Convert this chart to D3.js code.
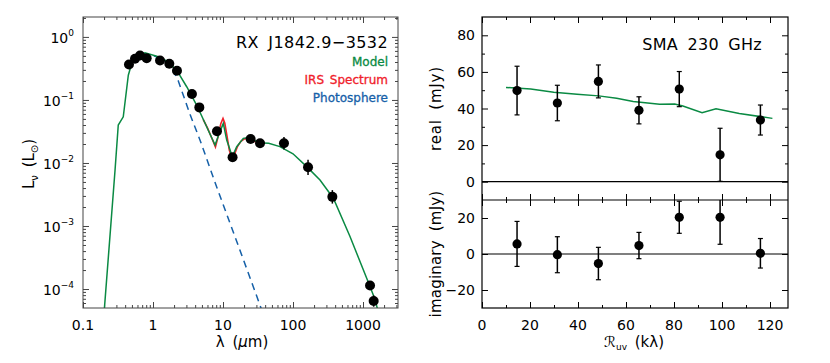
<!DOCTYPE html>
<html>
<head>
<meta charset="utf-8">
<script src="https://cdn.jsdelivr.net/npm/d3@7"></script>
<style>
  body { margin: 0; background: #fff; }
  text { font-family: "DejaVu Sans", sans-serif; }
</style>
</head>
<body>
<svg id="chart" width="830" height="363"></svg>
<script>
// SED panel data (wavelength in micron, luminosity in Lsun)
const sedWave = [0.454, 0.553, 0.652, 0.812, 1.26, 1.71, 2.20, 3.6, 4.59, 8.2, 13.7, 24.8, 33.8, 74.3, 164, 365, 1260, 1420];
const sedLum = [0.366, 0.449, 0.507, 0.46, 0.422, 0.374, 0.29, 0.124, 0.0762, 0.0318, 0.0123, 0.024, 0.0205, 0.0205, 0.00853, 0.0029, 1.14e-4, 6.45e-5];
const sedErrDex = [0, 0, 0, 0, 0, 0, 0, 0, 0, 0, 0, 0.03, 0.03, 0.1, 0.12, 0.107, 0.05, 0.09];

const modelWave = [0.19, 0.287, 0.319, 0.376, 0.444, 0.496, 0.652, 0.769, 1.13, 1.57, 2.18, 3.03, 4.2, 5.24, 7.7, 8.85, 10.1, 11.3, 13.6, 15.7, 19.5, 24.3, 31.9, 45, 65, 100, 157, 243, 377, 652, 1259, 1484, 1800];
const modelLum = [2e-5, 7.75e-3, 0.04, 0.054, 0.247, 0.379, 0.513, 0.559, 0.494, 0.417, 0.297, 0.162, 0.083, 0.049, 0.0193, 0.0295, 0.0425, 0.0231, 0.0126, 0.0181, 0.0246, 0.0255, 0.021, 0.0205, 0.0182, 0.014, 0.00875, 0.00538, 0.00276, 6.8e-4, 1.1e-4, 6.8e-5, 3e-5];

const irsWave = [5.2, 6.0, 7.0, 7.8, 8.5, 9.3, 10.0, 10.6, 11.4, 12.3, 13.3, 14.5, 16, 18, 20, 22, 25, 28, 32, 36];
const irsLum = [0.049, 0.036, 0.024, 0.018, 0.026, 0.042, 0.051, 0.043, 0.027, 0.016, 0.0118, 0.0135, 0.018, 0.022, 0.024, 0.0245, 0.0235, 0.022, 0.0215, 0.021];

const photWave = [0.7, 1.0, 1.3, 1.6, 1.9, 2.3, 2.6, 3.4, 4.7, 8.1, 14.8, 27, 40];
const photLum = [0.545, 0.51, 0.45, 0.39, 0.31, 0.2, 0.135, 0.058, 0.023, 0.0042, 6.8e-4, 1.1e-4, 3.3e-5];

const lamTicks = [0.1, 1, 10, 100, 1000];
const lamTickLabels = ["0.1", "1", "10", "100", "1000"];
const lumTicks = [1e-4, 1e-3, 1e-2, 1e-1, 1];
const lumTickExp = ["\u22124", "\u22123", "\u22122", "\u22121", "0"];

// SMA visibility data (uv distance in klambda, mJy)
const uvDist = [14.6, 31.4, 48.5, 65.4, 82.2, 99.2, 116];
const realAmp = [49.8, 43, 54.8, 39, 50.6, 14.7, 33.7];
const realErr = [13.3, 9.7, 9, 7.4, 9.6, 14.5, 8.2];
const imagAmp = [5.6, -0.4, -5.3, 4.7, 20.4, 20.4, 0.4];
const imagErr = [12.5, 10, 9, 7.3, 8.9, 15, 8.2];

const uvModelDist = [10, 20.3, 29.9, 39.6, 48.6, 56.1, 63, 74, 80.3, 83.7, 91.7, 97.5, 107.2, 121];
const uvModelReal = [51.5, 50.6, 48.9, 47.8, 46.9, 45.6, 43.8, 42.3, 42.5, 41.4, 37.7, 39.9, 37.3, 34.6];

const uvTicks = [0, 20, 40, 60, 80, 100, 120];
const realTicks = [0, 20, 40, 60, 80];
const imagTicks = [-20, 0, 20];

const GREEN = "#0a8a43", RED = "#f0202a", BLUE = "#1560a8";

const svg = d3.select("#chart");

// ---------- left panel: SED ----------
const L = {left: 83, right: 398, top: 17, bottom: 308};
const x = d3.scaleLog().domain([0.1, Math.pow(10, 3.5)]).range([L.left, L.right]);
const y = d3.scaleLog().domain([5e-5, 2.07]).range([L.bottom, L.top]);

function logMinor(lo, hi) {
    let out = [];
    for (let e = -6; e <= 4; e++) {
        for (let m = 2; m <= 9; m++) {
            let v = m * Math.pow(10, e);
            if (v > lo && v < hi) out.push(v);
        }
    }
    return out;
}

function drawTicks(g, axisFn, scale, values, size, transform, color) {
    g.append("g")
        .attr("transform", transform)
        .call(axisFn(scale).tickValues(values).tickSize(-size).tickFormat(""))
        .call(a => a.select(".domain").remove())
        .call(a => a.selectAll("line").attr("stroke", color));
}

const left = svg.append("g");
const leftColor = "#444";
for (let [fn, t] of [[d3.axisBottom, `translate(0,${L.bottom})`], [d3.axisTop, `translate(0,${L.top})`]]) {
    drawTicks(left, fn, x, lamTicks, 6, t, leftColor);
    drawTicks(left, fn, x, logMinor(0.1, 3162), 3, t, leftColor);
}
for (let [fn, t] of [[d3.axisLeft, `translate(${L.left},0)`], [d3.axisRight, `translate(${L.right},0)`]]) {
    drawTicks(left, fn, y, lumTicks, 6, t, leftColor);
    drawTicks(left, fn, y, logMinor(5e-5, 2.07), 3, t, leftColor);
}

left.append("clipPath").attr("id", "clipL")
    .append("rect").attr("x", L.left).attr("y", L.top)
    .attr("width", L.right - L.left).attr("height", L.bottom - L.top);

const sedLine = d3.line().x(d => x(d[0])).y(d => y(d[1]));
const plotL = left.append("g").attr("clip-path", "url(#clipL)");

plotL.append("path")
    .attr("d", sedLine(d3.zip(photWave, photLum)))
    .attr("fill", "none").attr("stroke", BLUE).attr("stroke-width", 1.5)
    .attr("stroke-dasharray", "7,5");
plotL.append("path")
    .attr("d", sedLine(d3.zip(irsWave, irsLum)))
    .attr("fill", "none").attr("stroke", RED).attr("stroke-width", 1.6);
plotL.append("path")
    .attr("d", sedLine(d3.zip(modelWave, modelLum)))
    .attr("fill", "none").attr("stroke", GREEN).attr("stroke-width", 1.5);

sedWave.forEach((w, i) => {
    if (sedErrDex[i] > 0) {
        plotL.append("line")
            .attr("x1", x(w)).attr("x2", x(w))
            .attr("y1", y(sedLum[i] * Math.pow(10, sedErrDex[i])))
            .attr("y2", y(sedLum[i] / Math.pow(10, sedErrDex[i])))
            .attr("stroke", "#000").attr("stroke-width", 1.5);
    }
    plotL.append("circle")
        .attr("cx", x(w)).attr("cy", y(sedLum[i])).attr("r", 5)
        .attr("fill", "#000");
});

left.append("rect")
    .attr("x", L.left).attr("y", L.top)
    .attr("width", L.right - L.left).attr("height", L.bottom - L.top)
    .attr("fill", "none").attr("stroke", leftColor).attr("stroke-width", 1);

lamTicks.forEach((v, i) => {
    left.append("text")
        .attr("x", x(v)).attr("y", 330)
        .attr("text-anchor", "middle").attr("font-size", 14)
        .text(lamTickLabels[i]);
});
lumTicks.forEach((v, i) => {
    let t = left.append("text")
        .attr("x", 74).attr("y", y(v) + 6)
        .attr("text-anchor", "end").attr("font-size", 14);
    t.append("tspan").text("10");
    t.append("tspan").attr("dy", -7).attr("font-size", 9).text(lumTickExp[i]);
});

let xl = left.append("text")
    .attr("x", 242).attr("y", 347)
    .attr("text-anchor", "middle").attr("font-size", 15).attr("word-spacing", 3);
xl.append("tspan").text("\u03bb (");
xl.append("tspan").attr("font-style", "italic").text("\u03bc");
xl.append("tspan").text("m)");

let yl = left.append("text")
    .attr("transform", "translate(34,164) rotate(-90)")
    .attr("text-anchor", "middle").attr("font-size", 15).attr("word-spacing", 3);
yl.append("tspan").text("L");
yl.append("tspan").attr("dy", 4).attr("font-size", 10).text("\u03bd");
yl.append("tspan").attr("dy", -4).text(" (L");
yl.append("tspan").attr("dy", 4).attr("font-size", 10).text("\u2299");
yl.append("tspan").attr("dy", -4).text(")");

left.append("text")
    .attr("x", 388).attr("y", 48)
    .attr("text-anchor", "end").attr("font-size", 16).attr("word-spacing", 4)
    .attr("letter-spacing", 0.4)
    .text("RX J1842.9\u22123532");
[["Model", GREEN, 66], ["IRS Spectrum", RED, 84], ["Photosphere", BLUE, 102]].forEach(d => {
    left.append("text")
        .attr("x", 388).attr("y", d[2])
        .attr("text-anchor", "end").attr("font-size", 12)
        .attr("fill", d[1]).attr("word-spacing", 2)
        .attr("stroke", d[1]).attr("stroke-width", 0.3)
        .text(d[0]);
});

// ---------- right panels: SMA visibilities ----------
const R = {left: 482, right: 788, top: 17, mid: 200, bottom: 308};
const u = d3.scaleLinear().domain([0, 127.5]).range([R.left, R.right]);
const yr = d3.scaleLinear().domain([-10, 90]).range([R.mid, R.top]);
const yi = d3.scaleLinear().domain([-30, 30]).range([R.bottom, R.mid]);
const uvMinor = d3.range(10, 127, 20);

const right = svg.append("g");
for (let [top, bot] of [[R.top, R.mid], [R.mid, R.bottom]]) {
    drawTicks(right, d3.axisBottom, u, uvTicks, 6, `translate(0,${bot})`, "#000");
    drawTicks(right, d3.axisBottom, u, uvMinor, 3, `translate(0,${bot})`, "#000");
    drawTicks(right, d3.axisTop, u, uvTicks, 6, `translate(0,${top})`, "#000");
    drawTicks(right, d3.axisTop, u, uvMinor, 3, `translate(0,${top})`, "#000");
}
drawTicks(right, d3.axisLeft, yr, realTicks, 6, `translate(${R.left},0)`, "#000");
drawTicks(right, d3.axisLeft, yr, [10, 30, 50, 70], 3, `translate(${R.left},0)`, "#000");
drawTicks(right, d3.axisRight, yr, realTicks, 6, `translate(${R.right},0)`, "#000");
drawTicks(right, d3.axisRight, yr, [10, 30, 50, 70], 3, `translate(${R.right},0)`, "#000");
drawTicks(right, d3.axisLeft, yi, imagTicks, 6, `translate(${R.left},0)`, "#000");
drawTicks(right, d3.axisRight, yi, imagTicks, 6, `translate(${R.right},0)`, "#000");

// zero lines
right.append("line").attr("x1", R.left).attr("x2", R.right)
    .attr("y1", yr(0)).attr("y2", yr(0)).attr("stroke", "#000").attr("stroke-width", 1.2);
right.append("line").attr("x1", R.left).attr("x2", R.right)
    .attr("y1", yi(0)).attr("y2", yi(0)).attr("stroke", "#000").attr("stroke-width", 1.2);

right.append("path")
    .attr("d", d3.line().x(d => u(d[0])).y(d => yr(d[1]))(d3.zip(uvModelDist, uvModelReal)))
    .attr("fill", "none").attr("stroke", GREEN).attr("stroke-width", 1.5);

right.append("clipPath").attr("id", "clipI")
    .append("rect").attr("x", R.left).attr("y", R.mid)
    .attr("width", R.right - R.left).attr("height", R.bottom - R.mid);
right.append("clipPath").attr("id", "clipR")
    .append("rect").attr("x", R.left).attr("y", R.top)
    .attr("width", R.right - R.left).attr("height", R.mid - R.top);

function drawPoints(g, ys, vals, errs) {
    vals.forEach((v, i) => {
        let cx = u(uvDist[i]);
        g.append("line").attr("x1", cx).attr("x2", cx)
            .attr("y1", ys(v - errs[i])).attr("y2", ys(v + errs[i]))
            .attr("stroke", "#000").attr("stroke-width", 1.5);
        for (let e of [v - errs[i], v + errs[i]]) {
            g.append("line").attr("x1", cx - 2.5).attr("x2", cx + 2.5)
                .attr("y1", ys(e)).attr("y2", ys(e))
                .attr("stroke", "#000").attr("stroke-width", 1.2);
        }
        g.append("circle").attr("cx", cx).attr("cy", ys(v)).attr("r", 4.6).attr("fill", "#000");
    });
}
drawPoints(right.append("g").attr("clip-path", "url(#clipR)"), yr, realAmp, realErr);
drawPoints(right.append("g").attr("clip-path", "url(#clipI)"), yi, imagAmp, imagErr);

right.append("rect").attr("x", R.left).attr("y", R.top)
    .attr("width", R.right - R.left).attr("height", R.bottom - R.top)
    .attr("fill", "none").attr("stroke", "#000").attr("stroke-width", 1.2);
right.append("line").attr("x1", R.left).attr("x2", R.right)
    .attr("y1", R.mid).attr("y2", R.mid).attr("stroke", "#000").attr("stroke-width", 1.2);

uvTicks.forEach(v => {
    right.append("text").attr("x", u(v)).attr("y", 330)
        .attr("text-anchor", "middle").attr("font-size", 14).text(v);
});
realTicks.forEach(v => {
    right.append("text").attr("x", 475).attr("y", yr(v) + 5)
        .attr("text-anchor", "end").attr("font-size", 14).text(v);
});
imagTicks.forEach(v => {
    right.append("text").attr("x", 475).attr("y", yi(v) + 5)
        .attr("text-anchor", "end").attr("font-size", 14)
        .text(v < 0 ? "\u2212" + Math.abs(v) : v);
});

right.append("text").attr("transform", `translate(441,${(R.top + R.mid) / 2}) rotate(-90)`)
    .attr("text-anchor", "middle").attr("font-size", 15).attr("word-spacing", 4)
    .attr("letter-spacing", 0.8)
    .text("real (mJy)");
right.append("text").attr("transform", `translate(441,254) rotate(-90)`)
    .attr("text-anchor", "middle").attr("font-size", 15).attr("word-spacing", 4)
    .attr("letter-spacing", 0.2)
    .text("imaginary (mJy)");

let ul = right.append("text").attr("x", 634).attr("y", 347)
    .attr("text-anchor", "middle").attr("font-size", 15).attr("word-spacing", 3);
ul.append("tspan").attr("font-style", "italic").text("\u211b");
ul.append("tspan").attr("dy", 3).attr("font-size", 9).text("uv");
ul.append("tspan").attr("dy", -3).text(" (k\u03bb)");

right.append("text").attr("x", 762).attr("y", 50)
    .attr("text-anchor", "end").attr("font-size", 16).attr("word-spacing", 4)
    .attr("letter-spacing", 0.3)
    .text("SMA 230 GHz");
</script>
</body>
</html>
